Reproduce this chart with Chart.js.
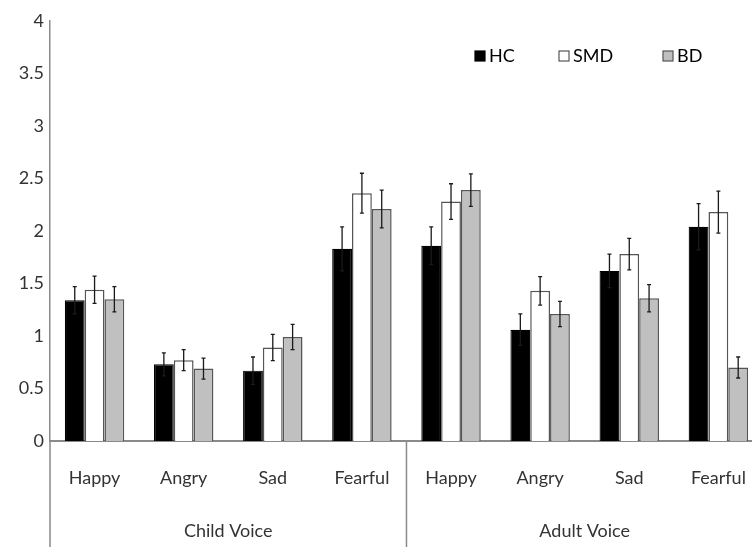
<!DOCTYPE html>
<html><head><meta charset="utf-8">
<script src="https://cdn.jsdelivr.net/npm/chart.js@4"></script>
<style>html,body{margin:0;padding:0;overflow:hidden;background:#fff}#wrap{width:772px;height:547px}</style>
</head><body><div id="wrap"><canvas id="c" width="772" height="547"></canvas></div>
<script>
const categories = ['Happy','Angry','Sad','Fearful','Happy','Angry','Sad','Fearful'];
const groups = ['Child Voice','Adult Voice'];
const seriesNames = ['HC','SMD','BD'];
const hcValues  = [1.34,0.73,0.67,1.83,1.86,1.06,1.62,2.04];
const smdValues = [1.44,0.77,0.89,2.36,2.28,1.43,1.78,2.18];
const bdValues  = [1.35,0.69,0.99,2.21,2.39,1.21,1.36,0.70];
const hcErrors  = [0.13,0.11,0.13,0.21,0.18,0.15,0.16,0.22];
const smdErrors = [0.13,0.10,0.125,0.19,0.17,0.135,0.15,0.20];
const bdErrors  = [0.12,0.10,0.12,0.18,0.155,0.12,0.13,0.10];
const yTicks = [0,0.5,1,1.5,2,2.5,3,3.5,4];

const FONT = 'Lato, "Open Sans", sans-serif';
const TXT = '#333333';
const AXIS = '#8a8a8a';

const errorBars = {
  id: 'errorBars',
  afterDatasetsDraw(chart) {
    const ctx = chart.ctx, y = chart.scales.y;
    chart.data.datasets.forEach((ds, i) => {
      const meta = chart.getDatasetMeta(i);
      meta.data.forEach((bar, j) => {
        const v = ds.data[j], e = ds.errors[j];
        const top = y.getPixelForValue(v + e), bot = y.getPixelForValue(v - e);
        ctx.save();
        ctx.strokeStyle = '#1a1a1a'; ctx.lineWidth = 1.3;
        ctx.beginPath();
        ctx.moveTo(bar.x, top); ctx.lineTo(bar.x, bot);
        ctx.moveTo(bar.x - 2, top); ctx.lineTo(bar.x + 2, top);
        ctx.moveTo(bar.x - 2, bot); ctx.lineTo(bar.x + 2, bot);
        ctx.stroke();
        ctx.restore();
      });
    });
  }
};

const decorations = {
  id: 'decorations',
  afterDraw(chart) {
    const ctx = chart.ctx, x = chart.scales.x, a = chart.chartArea;
    const h = chart.height;
    const sep = (x.getPixelForValue(3) + x.getPixelForValue(4)) / 2;
    ctx.save();
    ctx.strokeStyle = AXIS; ctx.lineWidth = 1.5;
    ctx.beginPath();
    ctx.moveTo(a.left, a.bottom); ctx.lineTo(a.left, h);
    ctx.moveTo(sep, a.bottom); ctx.lineTo(sep, h);
    ctx.moveTo(a.right, a.bottom); ctx.lineTo(a.right, h);
    ctx.stroke();
    // legend
    const o = chart.options.plugins.decorations;
    ctx.font = o.fontSize + 'px ' + FONT;
    ctx.textBaseline = 'middle';
    chart.data.datasets.forEach((ds, i) => {
      const bx = o.xs[i], by = o.y;
      ctx.fillStyle = ds.backgroundColor;
      ctx.strokeStyle = ds.borderColor;
      ctx.lineWidth = 1.2;
      ctx.fillRect(bx, by - 5, 10, 10);
      ctx.strokeRect(bx, by - 5, 10, 10);
      ctx.fillStyle = '#000';
      ctx.fillText(ds.label, bx + 14, by);
    });
    ctx.restore();
  }
};

new Chart(document.getElementById('c'), {
  type: 'bar',
  data: {
    labels: categories,
    datasets: [
      {label: seriesNames[0], data: hcValues, errors: hcErrors, backgroundColor: '#000000', borderColor: '#000000', borderWidth: 1.2},
      {label: seriesNames[1], data: smdValues, errors: smdErrors, backgroundColor: '#ffffff', borderColor: '#555555', borderWidth: 1.5},
      {label: seriesNames[2], data: bdValues, errors: bdErrors, backgroundColor: '#c0c0c0', borderColor: '#555555', borderWidth: 1.5}
    ]
  },
  options: {
    responsive: false,
    animation: false,
    layout: {padding: {top: 21, right: 2, left: 0, bottom: 0}},
    datasets: {bar: {categoryPercentage: 0.667, barPercentage: 1.0}},
    plugins: {
      legend: {display: false},
      tooltip: {enabled: false},
      decorations: {xs: [475, 559, 663], y: 56, fontSize: 18}
    },
    scales: {
      x: {
        grid: {display: false, drawTicks: false},
        border: {display: true, color: AXIS, width: 2},
        ticks: {color: TXT, font: {family: FONT, size: 18}, padding: 26, maxRotation: 0, autoSkip: false},
        afterFit(s) { s.height = 70; }
      },
      x2: {
        type: 'category',
        labels: groups,
        position: 'bottom',
        offset: true,
        grid: {display: false, drawTicks: false},
        border: {display: false},
        ticks: {color: TXT, font: {family: FONT, size: 18}, padding: 9, maxRotation: 0},
        afterFit(s) { s.height = 36; }
      },
      y: {
        min: 0, max: 4,
        grid: {display: false, drawTicks: false},
        border: {display: true, color: AXIS, width: 1.5},
        ticks: {color: TXT, font: {family: FONT, size: 18}, padding: 6, callback: v => String(v)},
        afterBuildTicks(s) { s.ticks = yTicks.map(v => ({value: v})); },
        afterFit(s) { s.width = 50; }
      }
    }
  },
  plugins: [errorBars, decorations]
});
</script>
</body></html>
